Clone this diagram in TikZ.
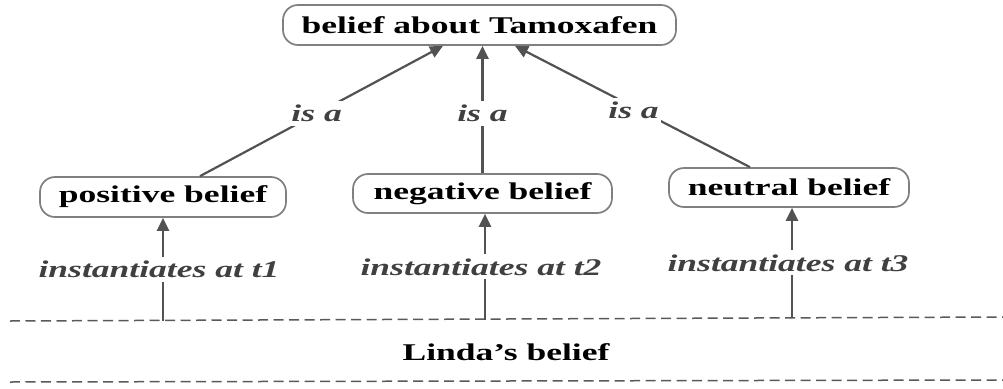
\documentclass[tikz,border=0pt]{standalone}
\usepackage{graphicx}
\usepackage{fontspec}
\setmainfont{Liberation Serif}
\usetikzlibrary{arrows.meta,calc}
% labels are set wide, stretched horizontally
\newcommand{\wide}[1]{\scalebox{1.48}[1]{#1}}
\begin{document}
\begin{tikzpicture}[x=1pt,y=-1pt,
  concept/.style={draw=black!50, line width=1.7pt, rounded corners=15pt, fill=white,
    font=\fontsize{24}{28}\selectfont\bfseries, inner sep=0pt, minimum height=40pt},
  link/.style={draw=black!68, line width=2.2pt, -{Triangle[length=13pt,width=12pt]}},
  rel/.style={fill=white, inner xsep=2pt, inner ysep=4pt, text=black!75,
    font=\fontsize{24}{28}\selectfont\bfseries\itshape},
  band/.style={dash pattern=on 10pt off 5.5pt, line width=1.5pt, draw=black!65}]
\useasboundingbox (0,0) rectangle (1003,388);

% concepts
\node[concept, minimum width=393pt] (top) at (479.5,25) {\wide{belief about Tamoxafen}};
\node[concept, minimum width=246pt] (pos) at (163,197) {\wide{positive belief}};
\node[concept, minimum width=259pt, minimum height=39pt] (neg) at (482.5,193.5) {\wide{negative belief}};
\node[concept, minimum width=240pt, minimum height=39pt] (neu) at (789,187.5) {\wide{neutral belief}};

% Linda's belief band
\draw[band] (10,321) -- (1003,317);
\draw[band] (10,382) -- (1003,380);
\node[font=\fontsize{24}{28}\selectfont\bfseries] (linda) at (506,352) {\wide{Linda's belief}};

\coordinate (s1) at (163,321);
\coordinate (s2) at (485,320);
\coordinate (s3) at (792,318);

% is-a links
\draw[link] ([xshift=37pt]pos.north) -- node[rel,pos=0.48]{\wide{is a}} ([xshift=-36.5pt]top.south);
\draw[link] (neg.north) -- node[rel,pos=0.47]{\wide{is a}} (neg.north |- top.south);
\draw[link] ([xshift=-39pt]neu.north) -- node[rel,pos=0.47,xshift=-6pt]{\wide{is a}} ([xshift=35.5pt]top.south);

% instantiation links
\draw[link] (s1) -- node[rel,xshift=-4pt]{\wide{instantiates at t1}} (s1 |- pos.south);
\draw[link] (s2) -- node[rel,xshift=-4pt]{\wide{instantiates at t2}} (s2 |- neg.south);
\draw[link] (s3) -- node[rel,xshift=-4pt]{\wide{instantiates at t3}} (s3 |- neu.south);
\end{tikzpicture}
\end{document}
